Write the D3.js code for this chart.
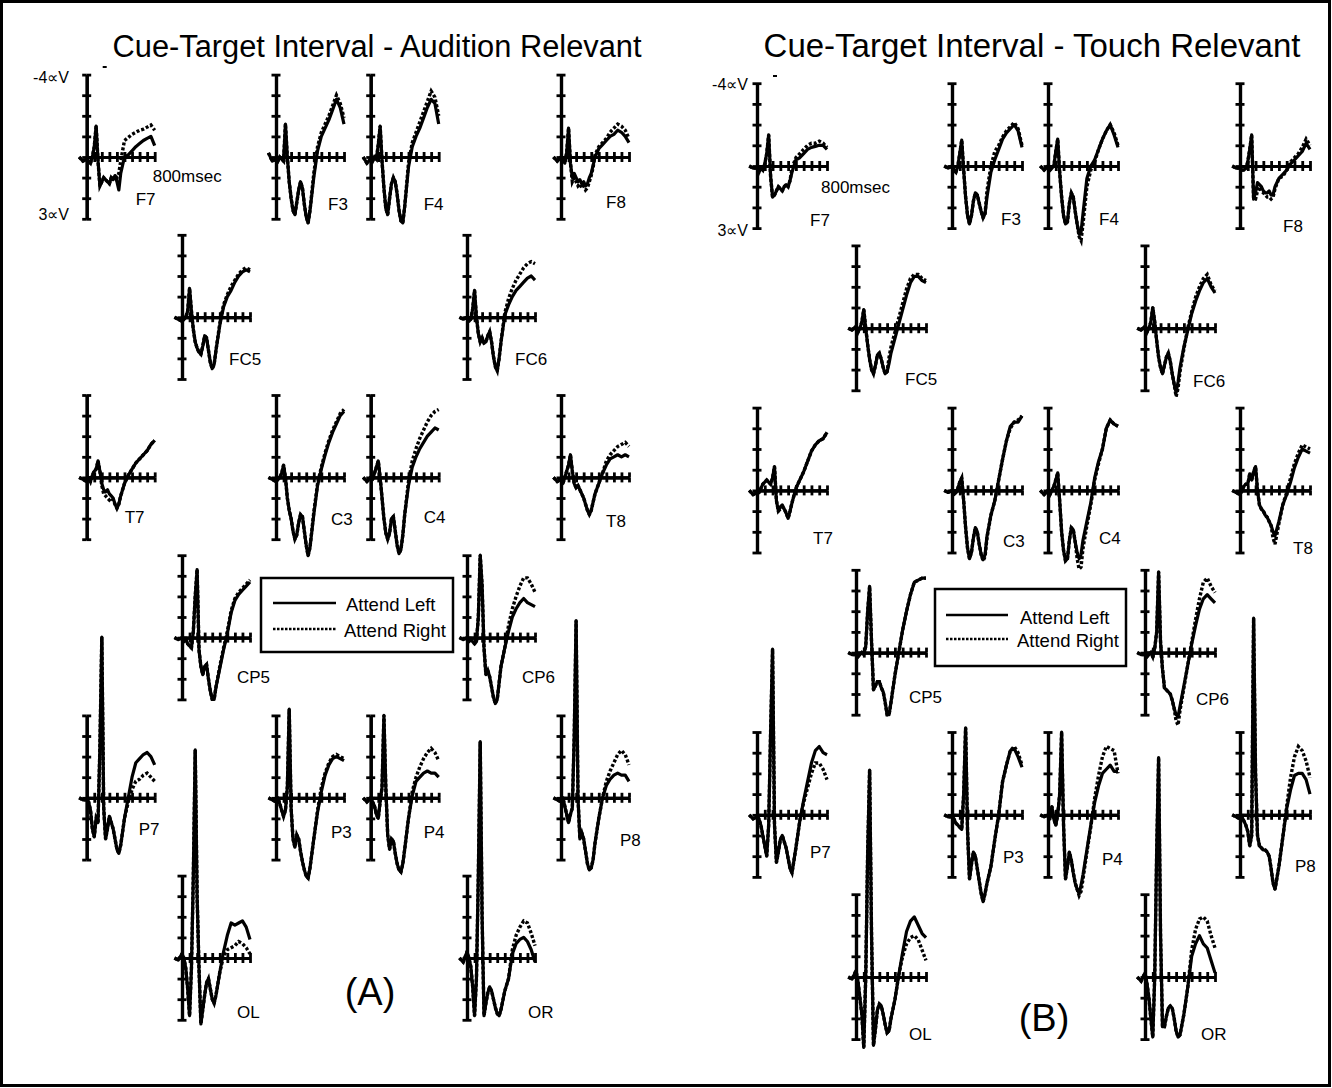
<!DOCTYPE html>
<html><head><meta charset="utf-8">
<script src="https://cdn.jsdelivr.net/npm/d3@7"></script>
<style>
body{margin:0;background:#fff}
text{font-family:"Liberation Sans",Arial,Helvetica,sans-serif;fill:#000}
.ax .domain{stroke:#000;stroke-width:3.2}
.ax .tick line{stroke:#000;stroke-width:2.8}
</style>
</head><body>
<svg id="chart" width="1332" height="1088"></svg>
<script>
// ---------------- DATA ----------------
const panelTitles = ["Cue-Target Interval - Audition Relevant", "Cue-Target Interval - Touch Relevant"];
const panelLetters = ["(A)", "(B)"];
const legendLabels = ["Attend Left", "Attend Right"];
const yTopLabel = "-4\u221DV";
const yBottomLabel = "3\u221DV";
const xEndLabel = "800msec";
const xTicksMs = [100, 200, 300, 400, 500, 600, 700, 800, 900];
const yTicksUv = [-4, -3, -2, -1, 0, 1, 2, 3];
const electrodes = ["F7","F3","F4","F8","FC5","FC6","T7","C3","C4","T8","CP5","CP6","P7","P3","P4","P8","OL","OR"];
const timesMs = [-100,-50,0,25,50,75,100,125,150,175,200,225,250,275,300,325,350,375,400,425,450,500,550,600,650,700,750,800,850,900];

// (A) Audition relevant, Attend Left (solid), microvolts, negative up
const auditionAttendLeft = [
 [0,0.2,0.1,0.2,0.3,0,-0.5,-1.5,0.2,1.4,1.2,1.0,1.1,1.2,1.3,1.0,1.1,0.9,1.2,1.6,0.8,0,-0.1,-0.3,-0.5,-0.65,-0.8,-0.9,-1.0,-0.55],
 [-0.2,0.2,0.1,0.2,0,0.1,0.2,-1.6,0.0,1.2,2.0,2.6,2.8,2.2,1.6,1.2,1.5,2.3,2.9,3.2,2.6,1.0,-0.3,-1.0,-1.4,-1.8,-2.3,-2.8,-2.4,-1.6],
 [0,0.3,0.1,0.2,0,0.1,-0.6,-1.5,0.2,1.5,2.5,2.8,2.0,1.3,1.0,1.2,1.8,2.6,3.1,3.2,2.4,0.5,-0.5,-1.0,-1.4,-1.9,-2.4,-2.8,-2.6,-1.6],
 [0,0.2,0,0.1,0.3,-0.2,-1.4,0.3,1.0,0.8,1.0,1.2,1.1,1.3,1.2,1.4,1.3,1.0,0.8,0.4,0.0,-0.4,-0.6,-0.8,-1.0,-1.1,-1.3,-1.2,-1.0,-0.7],
 [0,0.1,0.2,0.1,0,-0.3,-1.4,-0.3,0.6,1.2,1.5,1.7,1.8,1.4,0.9,1.0,1.6,2.2,2.5,2.3,1.6,0.4,-0.5,-1.0,-1.3,-1.7,-2.0,-2.2,-2.3,-2.2],
 [0,0.1,0,0.2,0.1,-0.4,-1.3,0,0.8,1.2,1.0,1.25,1.2,0.9,0.7,1.2,1.9,2.4,2.6,2.0,1.2,-0.1,-0.6,-1.0,-1.3,-1.5,-1.7,-1.9,-2.0,-1.8],
 [0,0.1,0.2,0,0.2,-0.1,-0.3,-0.4,-0.8,-0.3,0.3,0.6,0.7,0.6,0.8,0.9,1.0,1.3,1.5,1.3,0.9,0.3,-0.1,-0.4,-0.7,-0.9,-1.1,-1.3,-1.6,-1.8],
 [0,0.1,0.2,0.1,0,-0.2,-0.6,0,1.0,1.6,2.0,2.6,3.0,2.8,2.2,1.8,1.9,2.6,3.3,3.8,3.4,1.8,0.4,-0.4,-1.1,-1.7,-2.2,-2.6,-3.0,-3.2],
 [0,0.2,0,0.1,-0.2,-0.5,-0.8,0,1.0,2.0,2.7,3.0,2.7,2.0,1.9,2.6,3.3,3.7,3.5,2.8,1.8,0.4,-0.5,-1.0,-1.4,-1.7,-2.0,-2.2,-2.4,-2.3],
 [0,0.2,0.1,0.3,0,-0.3,-0.6,-1.1,-0.3,0.3,0.5,0.4,0.6,0.8,1.0,1.3,1.6,1.8,1.6,1.2,0.8,0.3,-0.2,-0.6,-0.9,-1.0,-1.1,-1.0,-1.1,-1.0],
 [0,0.1,0,0.2,0.1,0.3,0.4,0.5,-0.3,-2.0,-3.3,0.6,1.4,1.8,1.4,1.3,2.0,2.6,3.0,3.0,2.4,1.5,0.6,-0.2,-1.2,-1.8,-2.1,-2.3,-2.5,-2.7],
 [0,0.1,0,0.2,0.1,0.2,0.3,0.2,-1.0,-4.0,-2.5,0.5,1.8,1.6,1.9,2.4,2.9,3.2,3.0,2.2,1.4,0.5,-0.3,-1.0,-1.4,-1.7,-1.9,-1.7,-1.6,-1.5],
 [0,0.1,0.1,0.2,0.6,1.5,1.9,1.0,1.2,-2.5,-7.8,0.5,2.0,1.5,0.9,1.2,1.5,2.0,2.5,2.7,2.3,1.0,0.0,-1.0,-1.7,-1.9,-2.1,-2.2,-2.0,-1.6],
 [0,0.1,0.2,0,0.3,0.6,0.9,0.6,-0.5,-4.3,0.5,2.0,2.4,1.8,2.0,2.6,3.1,3.5,3.8,3.9,3.4,2.0,0.7,-0.3,-1.1,-1.6,-1.9,-2.0,-1.9,-1.8],
 [0,0.2,0,0.2,0.4,0.8,1.0,0.2,-0.5,-4.0,-0.5,1.8,2.5,2.0,2.1,2.7,3.2,3.5,3.6,3.2,2.5,1.0,-0.1,-0.8,-1.0,-1.2,-1.3,-1.2,-1.2,-1.0],
 [0,0.1,0.2,0,0.4,0.8,1.2,0.8,0.5,-3.0,-8.6,0.0,2.0,1.7,2.0,2.6,3.2,3.5,3.4,3.0,2.2,1.0,0.0,-0.6,-0.9,-1.1,-1.2,-1.1,-1.1,-0.8],
 [0,0.1,-0.2,0,0.5,1.5,2.8,0.5,-4.0,-10.1,-3.0,0.5,3.2,2.5,1.8,1.2,1.0,1.5,2.0,2.2,1.8,0.7,-0.3,-1.1,-1.7,-1.6,-1.7,-1.8,-1.5,-0.9],
 [0,0.2,-0.3,0,0.4,1.4,2.8,1.0,-4.0,-10.5,-2.0,2.8,2.2,1.7,1.4,1.6,2.0,2.4,2.7,2.8,2.5,1.6,1.0,-0.2,-0.7,-0.9,-1.0,-0.8,-0.4,0.2]
];
// (A) Audition relevant, Attend Right (dotted)
const auditionAttendRight = [
 [0,0.2,0.1,0.2,0.3,0,-0.5,-1.5,0.2,1.4,1.2,1.0,1.1,1.2,1.3,1.0,1.1,0.9,1.0,0.8,0.2,-0.8,-0.95,-1.1,-1.2,-1.3,-1.35,-1.45,-1.55,-1.3],
 [-0.2,0.2,0.1,0.2,0,0.1,0.2,-1.6,0.0,1.2,2.0,2.6,2.8,2.2,1.6,1.2,1.5,2.3,2.9,3.2,2.6,0.8,-0.5,-1.2,-1.6,-2.0,-2.5,-3.0,-2.6,-1.9],
 [0,0.3,0.1,0.2,0,0.1,-0.6,-1.5,0.2,1.5,2.5,2.8,2.0,1.3,1.0,1.2,1.8,2.6,3.1,3.2,2.4,0.3,-0.7,-1.2,-1.7,-2.2,-2.7,-3.2,-2.9,-2.0],
 [0,0.2,0,0.1,0.3,-0.2,-1.4,0.3,1.2,1.0,1.2,1.4,1.3,1.5,1.4,1.6,1.5,1.2,0.9,0.5,-0.1,-0.5,-0.7,-0.9,-1.2,-1.4,-1.6,-1.5,-1.3,-0.9],
 [0,0.1,0.2,0.1,0,-0.3,-1.4,-0.3,0.6,1.2,1.5,1.7,1.8,1.4,0.9,1.0,1.6,2.2,2.5,2.3,1.6,0.3,-0.6,-1.1,-1.5,-1.8,-2.1,-2.3,-2.4,-2.3],
 [0,0.1,0,0.2,0.1,-0.4,-1.3,0,0.8,1.2,1.0,1.25,1.2,0.9,0.7,1.2,1.9,2.4,2.6,2.0,1.2,-0.2,-0.9,-1.4,-1.8,-2.1,-2.4,-2.6,-2.7,-2.6],
 [0,0.1,0.2,0,0.2,-0.1,-0.3,-0.4,-0.8,-0.3,0.4,0.8,0.9,1.0,1.1,1.0,1.1,1.3,1.5,1.3,0.9,0.3,-0.1,-0.4,-0.7,-0.9,-1.1,-1.3,-1.6,-1.8],
 [0,0.1,0.2,0.1,0,-0.2,-0.6,0,1.0,1.6,2.0,2.6,3.0,2.8,2.2,1.8,1.9,2.6,3.3,3.8,3.4,1.7,0.3,-0.5,-1.2,-1.8,-2.3,-2.7,-3.1,-3.3],
 [0,0.2,0,0.1,-0.2,-0.5,-0.8,0,1.0,2.0,2.7,3.0,2.7,2.0,1.9,2.6,3.3,3.7,3.5,2.8,1.8,0.2,-0.8,-1.4,-1.9,-2.3,-2.7,-3.0,-3.2,-3.3],
 [0,0.2,0.1,0.3,0,-0.3,-0.6,-1.1,-0.3,0.3,0.5,0.4,0.6,0.8,1.0,1.3,1.6,1.8,1.6,1.2,0.8,0.3,-0.2,-0.8,-1.1,-1.3,-1.5,-1.6,-1.7,-1.5],
 [0,0.1,0,0.2,0.1,0.3,0.4,0.5,-0.3,-2.0,-3.3,0.6,1.4,1.8,1.4,1.3,2.0,2.6,3.0,3.0,2.4,1.4,0.5,-0.3,-1.3,-1.9,-2.2,-2.4,-2.6,-2.8],
 [0,0.1,0,0.2,0.1,0.2,0.3,0.2,-1.0,-4.0,-2.5,0.5,1.8,1.6,1.9,2.4,2.9,3.2,3.0,2.2,1.4,0.5,-0.6,-1.4,-2.0,-2.5,-2.9,-2.9,-2.6,-2.2],
 [0,0.1,0.1,0.2,0.6,1.5,1.9,1.0,1.2,-2.5,-7.8,0.5,2.0,1.5,0.9,1.2,1.5,2.0,2.5,2.7,2.3,1.0,0.2,-0.4,-0.8,-0.9,-1.1,-1.2,-1.0,-0.8],
 [0,0.1,0.2,0,0.3,0.6,0.9,0.6,-0.5,-4.3,0.5,2.0,2.4,1.8,2.0,2.6,3.1,3.5,3.8,3.9,3.4,2.0,0.6,-0.5,-1.2,-1.7,-2.0,-2.1,-2.0,-1.9],
 [0,0.2,0,0.2,0.4,0.8,1.0,0.2,-0.5,-4.0,-0.5,1.8,2.5,2.0,2.1,2.7,3.2,3.5,3.6,3.2,2.5,1.0,-0.3,-1.0,-1.5,-1.9,-2.2,-2.4,-2.2,-1.8],
 [0,0.1,0.2,0,0.4,0.8,1.2,0.8,0.5,-3.0,-8.6,0.0,2.0,1.7,2.0,2.6,3.2,3.5,3.4,3.0,2.2,1.0,0.0,-0.8,-1.3,-1.7,-2.1,-2.3,-2.1,-1.6],
 [0,0.1,-0.2,0,0.5,1.5,2.8,0.5,-4.0,-10.1,-3.0,0.5,3.2,2.5,1.8,1.2,1.0,1.5,2.0,2.2,1.8,0.7,-0.1,-0.4,-0.5,-0.6,-0.8,-0.7,-0.5,-0.2],
 [0,0.2,-0.3,0,0.4,1.4,2.8,1.0,-4.0,-10.5,-2.0,2.8,2.2,1.7,1.4,1.6,2.0,2.4,2.7,2.8,2.5,1.6,1.0,-0.4,-1.1,-1.5,-1.8,-1.7,-1.2,-0.6]
];
// (B) Touch relevant, Attend Left (solid)
const touchAttendLeft = [
 [0,0.1,0.1,0.3,0.1,0.2,-0.1,-0.6,-1.5,0.5,1.5,1.4,1.2,1.0,1.1,1.2,1.0,0.9,1.0,0.7,0.3,-0.3,-0.4,-0.6,-0.8,-0.9,-0.95,-1.0,-1.0,-0.8],
 [0,0.1,0,0.2,0.3,0.0,-0.6,-1.25,0.2,1.5,2.4,2.8,2.4,1.7,1.3,1.4,1.8,2.2,2.5,2.3,1.5,0.3,-0.3,-0.8,-1.3,-1.6,-1.8,-2.0,-1.7,-0.9],
 [0,0.2,0,0.2,0.1,0.0,-0.7,-1.3,0.3,1.5,2.4,2.8,2.7,1.8,1.3,1.5,2.2,2.8,3.3,3.2,2.3,0.6,0.0,-0.3,-0.8,-1.3,-1.7,-2.0,-1.5,-0.9],
 [0,0.1,0.1,0.2,0.2,0.1,-0.2,-0.8,-1.5,1.6,1.3,0.8,0.9,1.0,1.2,1.3,1.3,1.2,1.4,1.4,1.0,0.6,0.4,0.2,-0.1,-0.3,-0.5,-0.7,-1.1,-0.8],
 [0,0.1,-0.1,0.2,0.0,-0.3,-0.9,0.0,0.8,1.5,2.0,2.2,1.8,1.3,1.2,1.5,1.9,2.2,2.1,1.7,1.2,0.5,-0.2,-0.9,-1.6,-2.2,-2.5,-2.5,-2.3,-2.2],
 [0,0.1,-0.1,0.2,0.0,-0.3,-1.0,-0.3,0.6,1.4,1.9,2.2,1.8,1.4,1.2,1.6,2.2,2.7,3.1,2.6,1.9,0.9,0.1,-0.7,-1.3,-1.8,-2.2,-2.4,-2.0,-1.7],
 [0,0.2,0.1,0.1,-0.1,-0.3,-0.4,-0.5,-0.4,-0.3,-0.6,-1.15,0.5,1.0,0.8,0.7,0.9,1.1,1.35,1.0,0.6,-0.1,-0.5,-0.9,-1.4,-1.9,-2.2,-2.4,-2.5,-2.8],
 [0,0.1,0,0.2,0.1,-0.1,-0.4,-0.6,0.5,1.8,2.8,3.3,3.0,2.3,1.8,2.0,2.6,3.1,3.35,3.1,2.2,1.2,0.5,-0.5,-1.5,-2.4,-3.1,-3.3,-3.3,-3.6],
 [0,0.2,0,0.2,0.0,-0.2,-0.5,-0.85,0.5,2.0,2.9,3.4,3.3,2.4,1.8,1.9,2.5,3.0,3.3,3.1,2.4,1.5,0.6,-0.6,-1.4,-2.0,-3.0,-3.4,-3.2,-3.1],
 [0,0.1,0.2,0.0,-0.2,-0.3,-0.3,-0.8,-0.5,-0.9,-1.15,0.0,0.7,0.9,1.0,1.2,1.3,1.5,1.7,2.0,2.2,1.5,0.7,0.2,-0.4,-1.1,-1.6,-2.0,-1.9,-1.8],
 [0,0.1,0.1,0.2,0.1,0.0,0.1,-0.3,-2.0,-3.2,-0.5,1.8,1.6,1.4,1.4,1.7,1.9,2.4,3.0,3.0,2.4,1.1,0.0,-1.1,-2.0,-2.8,-3.4,-3.5,-3.6,-3.6],
 [0,0.1,0.1,0.2,0.1,0.0,0.2,-0.2,-1.0,-3.9,-0.5,0.8,1.7,1.8,1.9,2.0,2.3,2.7,3.0,3.1,2.6,1.6,0.6,-0.4,-1.3,-2.1,-2.6,-2.8,-2.6,-2.4],
 [0,0.2,0.1,0.2,0.5,1.0,1.5,2.0,0.5,-4.0,-8.0,0.5,2.3,1.8,1.2,1.0,1.3,1.6,2.1,2.6,2.8,1.6,0.3,-0.7,-1.6,-2.5,-3.1,-3.3,-3.0,-2.9],
 [0,0.1,0.1,0.2,0.4,0.5,0.6,0.7,-1.0,-4.2,0.8,3.1,2.4,1.8,2.0,2.6,3.2,3.8,4.2,3.8,3.3,2.5,1.2,0.0,-1.6,-2.4,-3.1,-3.2,-2.8,-2.3],
 [0,0.1,0,0.2,-0.4,0.2,0.5,0.0,-1.0,-4.0,0.5,3.1,2.5,1.8,2.2,2.8,3.3,3.6,3.8,3.4,2.9,1.7,0.5,-0.6,-1.4,-2.0,-2.2,-2.4,-2.1,-2.1],
 [0,0.1,0.2,0.1,0.3,0.5,0.8,1.5,1.0,-9.5,-2.0,1.0,1.5,1.6,1.7,1.7,1.8,2.0,2.6,3.3,3.6,2.5,1.1,-0.3,-1.2,-1.9,-2.0,-2.0,-1.7,-1.0],
 [0,0.1,-0.3,0.2,1.0,1.8,3.4,0.0,-6.0,-10.0,-2.0,3.3,2.5,1.6,1.3,1.4,1.8,2.3,2.7,2.6,2.0,1.1,-0.1,-1.2,-2.2,-2.7,-2.9,-2.5,-2.1,-1.9],
 [0,0.2,-0.2,0.3,1.0,2.0,2.9,0.0,-6.0,-10.6,-2.0,2.4,2.4,1.9,1.5,1.4,1.5,2.0,2.6,2.9,2.8,1.8,0.5,-1.0,-1.6,-2.0,-1.6,-1.4,-0.8,-0.2]
];
// (B) Touch relevant, Attend Right (dotted)
const touchAttendRight = [
 [0,0.1,0.1,0.3,0.1,0.2,-0.1,-0.6,-1.5,0.5,1.5,1.4,1.2,1.0,1.1,1.2,1.0,0.9,1.0,0.7,0.1,-0.4,-0.6,-0.8,-1.0,-1.1,-1.1,-1.2,-1.1,-0.9],
 [0,0.1,0,0.2,0.3,0.0,-0.6,-1.25,0.2,1.5,2.4,2.8,2.4,1.7,1.3,1.4,1.8,2.2,2.5,2.3,1.2,0.0,-0.7,-1.0,-1.4,-1.7,-1.9,-2.1,-1.8,-1.0],
 [0,0.2,0,0.2,0.1,0.0,-0.7,-1.3,0.3,1.5,2.4,2.8,2.7,1.8,1.3,1.5,2.2,2.8,3.4,3.6,2.8,1.0,0.2,-0.2,-0.8,-1.3,-1.7,-2.0,-1.6,-1.0],
 [0,0.1,0.1,0.2,0.2,0.1,-0.2,-0.8,-1.5,1.6,1.6,1.2,1.0,1.2,1.3,1.4,1.5,1.5,1.6,1.5,1.1,0.6,0.5,0.2,-0.2,-0.4,-0.6,-0.9,-1.3,-1.0],
 [0,0.1,-0.1,0.2,0.0,-0.3,-0.9,0.0,0.8,1.5,2.0,2.2,1.8,1.3,1.2,1.5,1.9,2.2,2.1,1.4,0.9,0.2,-0.5,-1.2,-1.9,-2.4,-2.6,-2.6,-2.4,-2.3],
 [0,0.1,-0.1,0.2,0.0,-0.3,-1.0,-0.3,0.6,1.4,1.9,2.2,1.8,1.4,1.2,1.6,2.2,2.7,3.3,2.9,2.1,1.0,0.0,-0.8,-1.5,-2.0,-2.4,-2.6,-2.1,-1.8],
 [0,0.2,0.1,0.1,-0.1,-0.3,-0.4,-0.5,-0.4,-0.3,-0.6,-1.15,0.5,1.0,0.9,0.8,0.9,1.1,1.35,1.0,0.6,-0.1,-0.5,-0.9,-1.4,-1.9,-2.2,-2.4,-2.5,-2.8],
 [0,0.1,0,0.2,0.1,-0.1,-0.4,-0.6,0.5,1.8,2.8,3.3,3.0,2.3,1.8,2.0,2.6,3.1,3.4,3.2,2.3,1.2,0.5,-0.5,-1.5,-2.4,-3.0,-3.3,-3.4,-3.6],
 [0,0.2,0,0.2,0.0,-0.2,-0.5,-0.85,0.5,2.0,2.9,3.4,3.3,2.4,1.8,1.9,2.5,3.3,3.8,3.7,2.8,1.7,0.7,-0.5,-1.3,-2.0,-3.0,-3.4,-3.2,-3.1],
 [0,0.1,0.2,0.0,-0.2,-0.3,-0.3,-0.8,-0.5,-0.9,-1.15,0.0,0.7,0.9,1.0,1.2,1.3,1.5,1.7,2.3,2.6,1.6,0.7,0.1,-0.6,-1.3,-1.8,-2.2,-2.1,-2.0],
 [0,0.1,0.1,0.2,0.1,0.0,0.1,-0.3,-2.0,-3.2,-0.5,1.8,1.6,1.4,1.4,1.7,1.9,2.4,3.0,3.0,2.4,1.1,0.0,-1.1,-2.0,-2.8,-3.4,-3.5,-3.6,-3.6],
 [0,0.1,0.1,0.2,0.1,0.0,0.2,-0.2,-1.0,-3.9,-0.5,0.8,1.7,1.8,1.9,2.0,2.3,2.7,3.3,3.5,2.8,1.7,0.6,-0.5,-1.6,-2.6,-3.4,-3.6,-3.2,-2.9],
 [0,0.2,0.1,0.2,0.5,1.0,1.5,2.0,0.5,-4.0,-8.0,0.5,2.3,1.8,1.2,1.0,1.3,1.6,2.1,2.6,2.8,1.6,0.3,-0.6,-1.3,-2.0,-2.5,-2.5,-2.2,-1.7],
 [0,0.1,0.1,0.2,0.4,0.5,0.6,0.7,-1.0,-4.2,0.8,3.1,2.4,1.8,2.0,2.6,3.2,3.8,4.2,3.8,3.3,2.5,1.2,0.0,-1.6,-2.4,-3.1,-3.3,-3.0,-2.4],
 [0,0.1,0,0.2,-0.4,0.2,0.5,0.0,-1.0,-4.0,0.5,3.1,2.5,1.8,2.2,2.8,3.3,3.6,3.9,3.7,3.1,1.8,0.6,-0.8,-1.9,-2.8,-3.3,-3.2,-3.1,-2.0],
 [0,0.1,0.2,0.1,0.3,0.5,0.8,1.5,1.0,-9.5,-2.0,1.0,1.5,1.6,1.7,1.7,1.8,2.0,2.6,3.3,3.6,2.5,1.1,-0.4,-1.8,-2.8,-3.3,-3.1,-2.6,-1.8],
 [0,0.1,-0.3,0.2,1.0,1.8,3.4,0.0,-6.0,-10.0,-2.0,3.3,2.5,1.6,1.3,1.4,1.8,2.3,2.7,2.6,2.0,1.1,-0.1,-1.0,-1.6,-1.9,-2.0,-1.8,-1.3,-0.8],
 [0,0.2,-0.2,0.3,1.0,2.0,2.9,0.0,-6.0,-10.6,-2.0,2.4,2.4,1.9,1.5,1.4,1.5,2.0,2.6,2.9,2.8,1.8,0.5,-1.3,-2.3,-2.8,-2.9,-2.7,-2.0,-1.4]
];

// ---------------- LAYOUT ----------------
const gridSlots = [[0,"c",0],[0,"c",1],[0,"c",2],[0,"c",3],[1,"m",0],[1,"m",1],[2,"c",0],[2,"c",1],[2,"c",2],[2,"c",3],[3,"m",0],[3,"m",1],[4,"c",0],[4,"c",1],[4,"c",2],[4,"c",3],[5,"m",0],[5,"m",1]];
const panels = [
 {ox:86.7, oy:157, c:[0,189.3,284,474.3], m:[95.3,380.3], rowStep:160.2, unit:20.6, len:68,
  left:auditionAttendLeft, right:auditionAttendRight,
  lab:[[49,48],[52,53],[53,53],[45,51],[47,48],[48,48],[38,46],[55,48],[53,46],[45,50],[55,45],[55,45],[52,37],[55,40],[53,40],[59,48],[55,60],[61,60]],
  title:{x:377, y:57, size:30.8}, letter:{x:370, y:1005},
  legend:{x:261, y:578, w:192, h:74, lx1:273, lx2:336, ly:[603,629], tx:[346,344], ty:[611,637]},
  yLab:{x:69, top:83, bottom:220}, xLab:{dx:66, dy:25}},
 {ox:757, oy:166, c:[0,195,291,483], m:[99,388], rowStep:162.2, unit:20.7, len:70,
  left:touchAttendLeft, right:touchAttendRight,
  lab:[[53,60],[49,59],[51,59],[43,66],[49,57],[48,59],[56,54],[51,57],[51,54],[53,64],[53,50],[51,52],[53,43],[51,48],[54,50],[55,57],[53,63],[56,63]],
  title:{x:1032, y:57, size:33}, letter:{x:1044, y:1031},
  legend:{x:935, y:589, w:191, h:77, lx1:946, lx2:1008, ly:[615,639], tx:[1020,1017], ty:[624,647]},
  yLab:{x:748, top:90, bottom:236}, xLab:{dx:64, dy:27}}
];

const svg = d3.select("#chart");
svg.append("rect").attr("x",1.5).attr("y",1.5).attr("width",1328).attr("height",1084)
   .attr("fill","none").attr("stroke","#000").attr("stroke-width",3);

panels.forEach((P, pi) => {
  const g = svg.append("g");
  g.append("text").attr("x",P.title.x).attr("y",P.title.y).attr("text-anchor","middle")
   .attr("font-size",P.title.size).text(panelTitles[pi]);
  g.append("text").attr("x",P.letter.x).attr("y",P.letter.y).attr("text-anchor","middle")
   .attr("font-size",38).text(panelLetters[pi]);

  electrodes.forEach((name, ei) => {
    const [row, kind, col] = gridSlots[ei];
    const ax = P.ox + (kind === "c" ? P.c[col] : P.m[col]);
    const zy = P.oy + row * P.rowStep;
    const x = d3.scaleLinear().domain([0, 900]).range([ax, ax + P.len]);
    const y = d3.scaleLinear().domain([-4, 3]).range([zy - 4*P.unit, zy + 3*P.unit]);
    const pg = g.append("g");

    [d3.axisLeft, d3.axisRight].forEach(fn => {
      pg.append("g").attr("class","ax").attr("transform",`translate(${ax},0)`)
        .call(fn(y).tickValues(yTicksUv).tickSize(4.5).tickSizeOuter(0).tickFormat(""));
    });
    [d3.axisTop, d3.axisBottom].forEach(fn => {
      pg.append("g").attr("class","ax").attr("transform",`translate(0,${zy})`)
        .call(fn(x).tickValues(xTicksMs).tickSize(5).tickSizeOuter(0).tickFormat(""));
    });

    const line = d3.line().x((d,i) => x(timesMs[i])).y(d => y(d));
    pg.append("path").datum(P.right[ei]).attr("d", line).attr("fill","none")
      .attr("stroke","#000").attr("stroke-width",3.4).attr("stroke-dasharray","3,2");
    pg.append("path").datum(P.left[ei]).attr("d", line).attr("fill","none")
      .attr("stroke","#000").attr("stroke-width",3.2).attr("stroke-linejoin","round");

    pg.append("text").attr("x", ax + P.lab[ei][0]).attr("y", zy + P.lab[ei][1])
      .attr("font-size",17).text(name);

    if (ei === 0) {
      g.append("text").attr("x",P.yLab.x).attr("y",P.yLab.top).attr("text-anchor","end")
        .attr("font-size",16).text(yTopLabel);
      g.append("text").attr("x",P.yLab.x).attr("y",P.yLab.bottom).attr("text-anchor","end")
        .attr("font-size",16).text(yBottomLabel);
      g.append("text").attr("x", ax + P.xLab.dx).attr("y", zy + P.xLab.dy)
        .attr("font-size",17).text(xEndLabel);
      g.append("rect").attr("x", ax + 16).attr("y", zy - 91).attr("width",4).attr("height",2).attr("fill","#000");
    }
  });

  const L = P.legend;
  g.append("rect").attr("x",L.x).attr("y",L.y).attr("width",L.w).attr("height",L.h)
   .attr("fill","none").attr("stroke","#000").attr("stroke-width",2.5);
  g.append("line").attr("x1",L.lx1).attr("x2",L.lx2).attr("y1",L.ly[0]).attr("y2",L.ly[0])
   .attr("stroke","#000").attr("stroke-width",2.5);
  g.append("line").attr("x1",L.lx1).attr("x2",L.lx2).attr("y1",L.ly[1]).attr("y2",L.ly[1])
   .attr("stroke","#000").attr("stroke-width",2.5).attr("stroke-dasharray","2.5,1.5");
  legendLabels.forEach((t,i) => {
    g.append("text").attr("x",L.tx[i]).attr("y",L.ty[i]).attr("font-size",18.5).text(t);
  });
});
</script>
</body></html>
